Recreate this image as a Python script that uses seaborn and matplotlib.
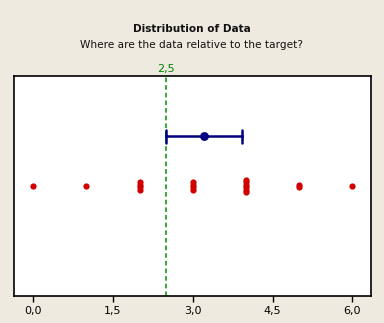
import numpy as np
import pandas as pd
import seaborn as sns
import matplotlib
matplotlib.use("Agg")
import matplotlib.pyplot as plt
from matplotlib.ticker import FuncFormatter

# observed values and how often each occurs
levels = [0, 1, 2, 3, 4, 5, 6]
counts = [1, 1, 4, 4, 6, 2, 1]
target = 2.5
x_ticks = [0.0, 1.5, 3.0, 4.5, 6.0]

title = "Distribution of Data"
subtitle = "Where are the data relative to the target?"

values = np.repeat(levels, counts).astype(float)
T_CRIT = 2.101  # t(0.975, df=18)


def t_interval(v):
    v = np.asarray(v, dtype=float)
    half = T_CRIT * v.std(ddof=1) / np.sqrt(len(v))
    return v.mean() - half, v.mean() + half


# small vertical spread for repeated values so stacks stay visible
rows = []
for lvl, n in zip(levels, counts):
    for k in range(n):
        rows.append((float(lvl), 1.0 + (k - (n - 1) / 2) * 0.05))
pts = pd.DataFrame(rows, columns=["value", "ypos"])

bg = "#EEEAE0"
sns.set_theme(style="white")
plt.rcParams["font.family"] = ["DejaVu Sans"]

fig = plt.figure(figsize=(3.84, 3.23), dpi=100, facecolor=bg)
ax = fig.add_axes([14 / 384, 1 - 296 / 323, 357 / 384, 220 / 323])
ax.set_facecolor("white")

ci_df = pd.DataFrame({"value": values, "row": "ci"})
sns.pointplot(data=ci_df, x="value", y="row", orient="h", native_scale=False,
              errorbar=t_interval, capsize=0.26, color="#000080",
              markersize=5, linewidth=1.8, err_kws={"linewidth": 1.8}, ax=ax)

sns.scatterplot(data=pts, x="value", y="ypos", color="#D00000", s=20,
                edgecolor="#D00000", linewidth=0, ax=ax, zorder=4)

ax.axvline(target, color="#009000", linestyle=(0, (3, 2)), linewidth=1.1, zorder=1)

ax.set_xlim(-0.363, 6.351)
ax.set_ylim(3.2, -1.2)
ax.set_xticks(x_ticks)
ax.xaxis.set_major_formatter(FuncFormatter(lambda v, p: f"{v:.1f}".replace(".", ",")))
ax.set_yticks([])
ax.set_xlabel("")
ax.set_ylabel("")
ax.tick_params(axis="x", bottom=True, length=4, width=1, color="black",
               labelsize=8, pad=3, labelcolor="black")
for s in ax.spines.values():
    s.set_color("black")
    s.set_linewidth(1.2)

ax.text(target, 1.01, f"{target:.1f}".replace(".", ","), transform=ax.get_xaxis_transform(),
        ha="center", va="bottom", color="#008000", fontsize=8)

fig.text(0.5, 1 - 29 / 323, title, ha="center", va="center", fontsize=7.6,
         fontweight="bold", color="#111111")
fig.text(0.5, 1 - 45 / 323, subtitle, ha="center", va="center", fontsize=7.6,
         color="#111111")

fig.savefig("out.png", dpi=100, facecolor=bg)
